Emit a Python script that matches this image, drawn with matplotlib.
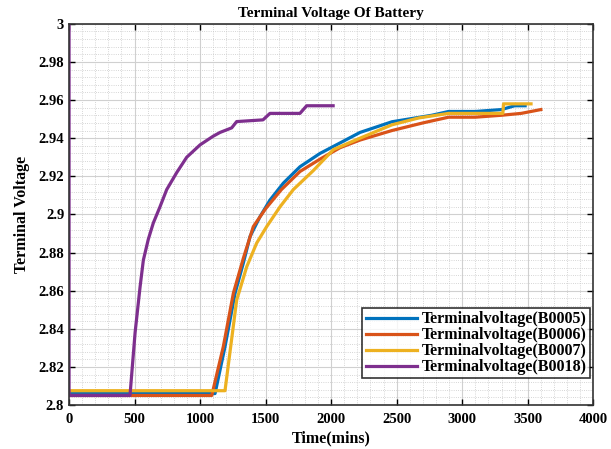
import matplotlib.pyplot as plt
from matplotlib.ticker import MultipleLocator

plt.rcParams["font.family"] = ["Liberation Serif", "DejaVu Serif"]
plt.rcParams["font.weight"] = "bold"

# B0005
t_b5 = [0, 1114, 1190, 1267, 1330, 1381, 1457, 1534, 1635, 1762, 1915, 2068,
        2220, 2464, 2767, 2896, 3100, 3300, 3400, 3480]
v_b5 = [2.806, 2.806, 2.8306, 2.8587, 2.8745, 2.8884, 2.8988, 2.9076, 2.9164,
        2.925, 2.932, 2.9375, 2.943, 2.9486, 2.952, 2.954, 2.954, 2.955, 2.957,
        2.957]
# B0006
t_b6 = [0, 1089, 1177, 1254, 1330, 1406, 1500, 1620, 1762, 1915, 2068, 2220,
        2464, 2700, 2896, 3100, 3297, 3450, 3600]
v_b6 = [2.805, 2.805, 2.8306, 2.8587, 2.877, 2.8936, 2.903, 2.913, 2.9225,
        2.929, 2.935, 2.939, 2.944, 2.948, 2.951, 2.951, 2.952, 2.953, 2.955]
# B0007
t_b7 = [0, 1190, 1279, 1356, 1432, 1508, 1610, 1711, 1864, 2017, 2220, 2464,
        2668, 2896, 3100, 3310, 3315, 3525]
v_b7 = [2.8075, 2.8075, 2.855, 2.8726, 2.885, 2.8936, 2.904, 2.913, 2.923,
        2.934, 2.940, 2.947, 2.9506, 2.953, 2.953, 2.953, 2.958, 2.958]
# B0018
t_b18 = [0, 0, 465, 504, 542, 567, 605, 643, 694, 745, 822, 898, 1000, 1099,
         1152, 1241, 1279, 1480, 1533, 1762, 1813, 2015]
v_b18 = [3.01, 2.805, 2.805, 2.838, 2.862, 2.876, 2.887, 2.8955, 2.904, 2.913,
         2.922, 2.930, 2.9365, 2.941, 2.943, 2.9454, 2.9487, 2.9496, 2.953,
         2.953, 2.957, 2.957]

series = [
    (t_b5, v_b5, "Terminalvoltage(B0005)", "#0072BD"),
    (t_b6, v_b6, "Terminalvoltage(B0006)", "#D95319"),
    (t_b7, v_b7, "Terminalvoltage(B0007)", "#EDB120"),
    (t_b18, v_b18, "Terminalvoltage(B0018)", "#7E2F8E"),
]

fig = plt.figure(figsize=(6.11, 4.49), dpi=100)
ax = fig.add_axes([0.113, 0.098, 0.858, 0.849])

for t, v, name, col in series:
    ax.plot(t, v, color=col, lw=2.3, label=name)

ax.set_xlim(0, 4000)
ax.set_ylim(2.8, 3.0)
ax.xaxis.set_major_locator(MultipleLocator(500))
ax.xaxis.set_minor_locator(MultipleLocator(100))
ax.yaxis.set_minor_locator(MultipleLocator(0.004))
ax.set_yticks([2.8, 2.82, 2.84, 2.86, 2.88, 2.9, 2.92, 2.94, 2.96, 2.98, 3.0])
ax.set_yticklabels(["2.8", "2.82", "2.84", "2.86", "2.88", "2.9", "2.92",
                    "2.94", "2.96", "2.98", "3"])
ax.grid(which="major", color="#d0d0d0", lw=0.8)
ax.grid(which="minor", color="#c8c8c8", lw=0.6, ls=":")
ax.set_axisbelow(True)
ax.tick_params(which="both", direction="in", top=True, right=True,
               labelsize=10.5)
ax.tick_params(axis="x", pad=6)
ax.tick_params(which="minor", length=0)
ax.tick_params(which="major", length=4, width=1)
for s in ax.spines.values():
    s.set_linewidth(1.2)
    s.set_color("#333333")

ax.set_title("Terminal Voltage Of Battery", fontsize=11, fontweight="bold", pad=5)
ax.set_xlabel("Time(mins)", fontsize=11.5, fontweight="bold", labelpad=3)
ax.set_ylabel("Terminal Voltage", fontsize=11.5, fontweight="bold", labelpad=6)

leg = ax.legend(loc="lower right", bbox_to_anchor=(0.993, 0.07), fontsize=11.5,
                frameon=True, fancybox=False, edgecolor="black", borderpad=0.2,
                handlelength=3.2, handletextpad=0.3, labelspacing=0.0,
                borderaxespad=0.0)
leg.get_frame().set_linewidth(1.2)

fig.savefig("out.png", dpi=100)
